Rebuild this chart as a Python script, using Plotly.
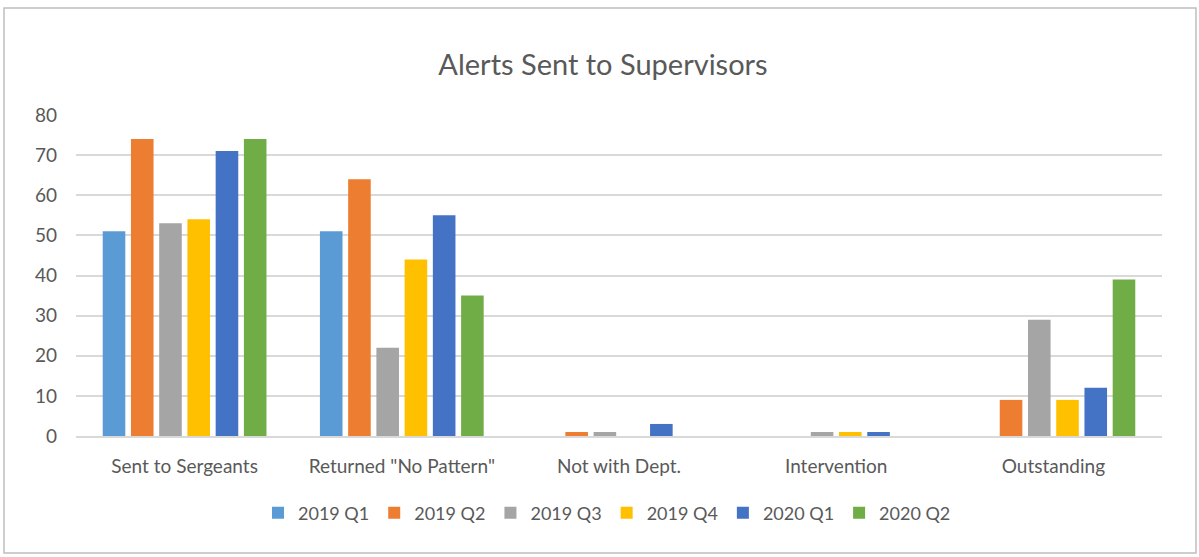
import plotly.graph_objects as go

categories = ["Sent to Sergeants", "Returned \"No Pattern\"", "Not with Dept.", "Intervention", "Outstanding"]
series_names = ["2019 Q1", "2019 Q2", "2019 Q3", "2019 Q4", "2020 Q1", "2020 Q2"]
q2019_1 = [51, 51, 0, 0, 0]
q2019_2 = [74, 64, 1, 0, 9]
q2019_3 = [53, 22, 1, 1, 29]
q2019_4 = [54, 44, 0, 1, 9]
q2020_1 = [71, 55, 3, 1, 12]
q2020_2 = [74, 35, 0, 0, 39]
colors = ["#5B9BD5", "#ED7D31", "#A5A5A5", "#FFC000", "#4472C4", "#70AD47"]

series_values = [q2019_1, q2019_2, q2019_3, q2019_4, q2020_1, q2020_2]

FONT = "Lato, Calibri, 'Open Sans', sans-serif"
GREY = "#595959"

fig = go.Figure()
for name, vals, col in zip(series_names, series_values, colors):
    fig.add_trace(go.Bar(x=categories, y=vals, name=name, marker=dict(color=col, line=dict(width=0))))

L, R, T, B = 76, 37, 115, 121
W, H = 1199, 557
pw = W - L - R
ph = H - T - B

def px_x(x):
    return (x - L) / pw

def px_y(y):
    return (H - B - y) / ph

fig.update_layout(
    width=W, height=H,
    margin=dict(l=L, r=R, t=T, b=B),
    paper_bgcolor="white", plot_bgcolor="white",
    barmode="group", bargap=0.22, bargroupgap=0.2,
    font=dict(family=FONT, color=GREY, size=19),
    title=dict(text="Alerts Sent to Supervisors", x=px_x(603), xref="paper", xanchor="center",
               y=1 - 65 / H, yanchor="middle", font=dict(size=29, color=GREY, family=FONT)),
    xaxis=dict(showgrid=False, showline=True, linecolor="#D9D9D9", linewidth=1.5, ticks="",
               tickfont=dict(size=19, color=GREY), ticklabelstandoff=12),
    yaxis=dict(range=[0, 80], dtick=10, showgrid=True, gridcolor="#D9D9D9", gridwidth=1.5,
               zeroline=False, showline=False, ticks="", ticklen=0,
               tickfont=dict(size=19, color=GREY), ticklabelstandoff=18),
    legend=dict(orientation="h", x=px_x(607), xanchor="center", y=px_y(513), yanchor="middle",
                font=dict(size=18, color=GREY), itemwidth=30, traceorder="normal"),
    showlegend=True,
)

fig.add_shape(type="rect", xref="paper", yref="paper",
              x0=px_x(4), x1=px_x(1196), y0=px_y(553), y1=px_y(8),
              line=dict(color="#BFBFBF", width=1.5), fillcolor="rgba(0,0,0,0)", layer="below")

fig.write_html("out.html", config={"displayModeBar": False},
               post_script="document.body.style.margin='0';document.body.style.overflow='hidden';")
